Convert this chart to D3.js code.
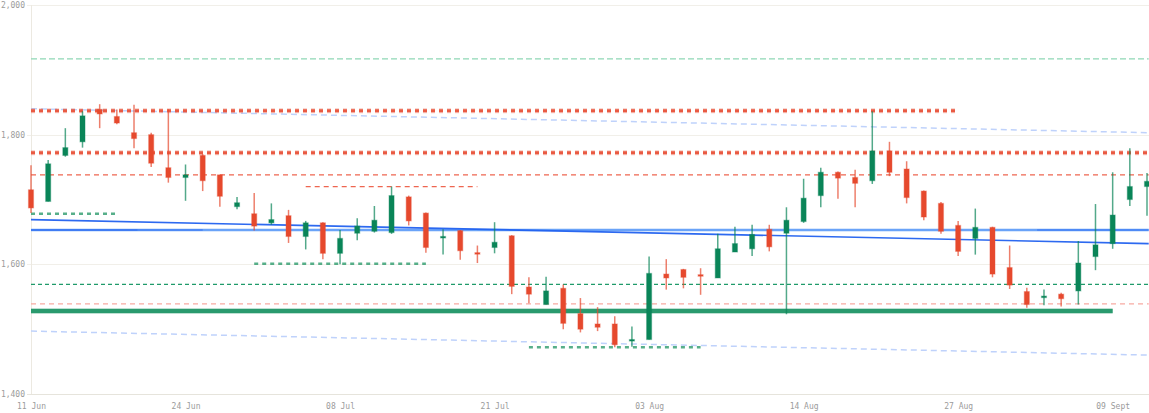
<!DOCTYPE html>
<html>
<head>
<meta charset="utf-8">
<script src="https://cdn.jsdelivr.net/npm/d3@7/dist/d3.min.js"></script>
<style>
  html, body { margin: 0; padding: 0; background: #ffffff; }
  svg { display: block; }
  text { font-family: "DejaVu Sans Mono", "Liberation Mono", monospace; }
</style>
</head>
<body>
<svg id="chart" width="1149" height="413"></svg>
<script>
// ---------------- DATA ----------------
const dates = [
  "2020-06-11","2020-06-12","2020-06-15","2020-06-16","2020-06-17","2020-06-18","2020-06-19",
  "2020-06-22","2020-06-23","2020-06-24","2020-06-25","2020-06-26","2020-06-29","2020-06-30",
  "2020-07-01","2020-07-02","2020-07-06","2020-07-07","2020-07-08","2020-07-09","2020-07-10",
  "2020-07-13","2020-07-14","2020-07-15","2020-07-16","2020-07-17","2020-07-20","2020-07-21",
  "2020-07-22","2020-07-23","2020-07-24","2020-07-27","2020-07-28","2020-07-29","2020-07-30",
  "2020-07-31","2020-08-03","2020-08-04","2020-08-05","2020-08-06","2020-08-07","2020-08-10",
  "2020-08-11","2020-08-12","2020-08-13","2020-08-14","2020-08-17","2020-08-18","2020-08-19",
  "2020-08-20","2020-08-21","2020-08-24","2020-08-25","2020-08-26","2020-08-27","2020-08-28",
  "2020-08-31","2020-09-01","2020-09-02","2020-09-03","2020-09-04","2020-09-07","2020-09-08",
  "2020-09-09","2020-09-10","2020-09-11"
];
const open  = [1715,1697,1768,1789,1839,1828,1803,1800,1749,1734,1768,1738,1689,1678,1664,1675,1643,1664,1617,1648,1651,1649,1704,1679,1641,1652,1618,1626,1644,1565,1538,1563,1524,1508,1508,1482,1484,1585,1592,1584,1579,1619,1624,1654,1648,1666,1706,1742,1734,1729,1775,1747,1713,1694,1660,1640,1657,1595,1558,1549,1554,1559,1612,1632,1700,1720];
const high  = [1753,1761,1810,1836,1847,1839,1846,1803,1839,1754,1770,1738,1704,1710,1694,1684,1667,1665,1653,1671,1690,1720,1706,1680,1654,1653,1629,1665,1645,1580,1581,1569,1548,1534,1520,1504,1612,1608,1593,1594,1647,1658,1661,1661,1688,1732,1749,1743,1746,1836,1789,1759,1714,1696,1667,1686,1658,1629,1564,1561,1556,1636,1693,1742,1779,1741];
const low   = [1679,1697,1766,1780,1810,1816,1779,1750,1726,1698,1713,1689,1685,1652,1661,1633,1623,1608,1600,1637,1649,1647,1660,1618,1615,1607,1602,1617,1554,1540,1538,1500,1495,1497,1472,1473,1484,1561,1563,1553,1579,1619,1613,1620,1523,1664,1688,1701,1688,1724,1736,1694,1668,1647,1613,1615,1580,1562,1533,1537,1535,1538,1591,1624,1690,1675];
const close = [1687,1755,1780,1829,1832,1818,1794,1756,1734,1738,1729,1705,1695,1659,1669,1643,1664,1617,1640,1659,1668,1706,1667,1626,1643,1621,1617,1634,1566,1554,1559,1509,1500,1503,1476,1484,1586,1579,1580,1582,1624,1632,1646,1627,1668,1702,1742,1733,1725,1775,1742,1703,1673,1651,1620,1657,1585,1568,1538,1551,1547,1602,1630,1676,1720,1728];

const yTicks = [1400, 1600, 1800, 2000];
const xTickDates  = ["2020-06-11","2020-06-24","2020-07-08","2020-07-21","2020-08-03","2020-08-14","2020-08-27","2020-09-09"];
const xTickLabels = ["11 Jun","24 Jun","08 Jul","21 Jul","03 Aug","14 Aug","27 Aug","09 Sept"];

// horizontal levels: [value, fromIndex, toIndex]  (65.1 = right edge)
const lightGreenLevels = [[1917, 0, 65.1]];
const redDottedLevels  = [[1837, 0, 54], [1772, 0, 65.1]];
const redDashLevels    = [[1738, 0, 65.1], [1720, 16, 26]];
const greenDashLevels  = [[1678, 0, 5], [1601, 13, 23], [1472, 29, 39]];
const greenThinLevels  = [[1569, 0, 65.1]];
const pinkLevels       = [[1539, 0, 65.1]];
const supportLevels    = [[1528, 0, 63]];
const blueFlatLevels   = [[1653, 0, 65.1]];
const blueFlatDark     = [[1653, 0, 10], [1653, 0, 6.2], [1653, 58.6, 65.1]];
// sloped channel lines: [fromIndex, fromValue, toIndex, toValue]
const channelOuter = [[0, 1840, 65.1, 1803], [0, 1497, 65.1, 1460]];
const channelMid   = [[0, 1669, 65.1, 1632]];

// ---------------- CHART ----------------
(function () {
const svg = d3.select("#chart");
const pLeft = 31, pRight = 1149, pTop = 5, pBottom = 394;
const x = d3.scaleLinear().domain([0, dates.length - 1]).range([31, 1147]);
const y = d3.scaleLinear().domain([1400, 2000]).range([pBottom, pTop]);
const idx = d => dates.indexOf(d);

const RED = "#e6492d", GREEN = "#0a8558";

// grid
const grid = svg.append("g");
grid.selectAll("line").data(yTicks).join("line")
  .attr("x1", 27).attr("x2", pRight)
  .attr("y1", d => Math.round(y(d)) + 0.5).attr("y2", d => Math.round(y(d)) + 0.5)
  .attr("stroke", d => d === 1400 ? "#e6e4dc" : "#f1efe9").attr("stroke-width", 1);
svg.append("line").attr("x1", pLeft + 0.5).attr("x2", pLeft + 0.5).attr("y1", pTop).attr("y2", pBottom)
  .attr("stroke", "#ece9e1").attr("stroke-width", 1);

// y axis labels
const yAxis = d3.axisLeft(y).tickValues(yTicks).tickSize(0).tickPadding(0)
  .tickFormat(d3.format(","));
const gy = svg.append("g").attr("transform", "translate(25,0)").call(yAxis);
gy.select(".domain").remove();
gy.selectAll("text").attr("font-size", 8).attr("fill", "#9b9b9b")
  .attr("font-family", "'DejaVu Sans Mono', monospace");

// x axis labels
const xAxis = d3.axisBottom(x).tickValues(xTickDates.map(idx)).tickSize(0).tickPadding(0)
  .tickFormat((d, i) => xTickLabels[i]);
const gx = svg.append("g").attr("transform", "translate(0,403)").call(xAxis);
gx.select(".domain").remove();
gx.selectAll("text").attr("font-size", 8).attr("fill", "#9b9b9b")
  .attr("font-family", "'DejaVu Sans Mono', monospace");

const levels = svg.append("g");
function hLines(data, color, width, dash, opacity, halo) {
  if (halo) {
    levels.append("g").selectAll("line").data(data).join("line")
      .attr("x1", d => x(d[1])).attr("x2", d => x(d[2]))
      .attr("y1", d => y(d[0])).attr("y2", d => y(d[0]))
      .attr("stroke", color).attr("stroke-width", width + 2)
      .attr("stroke-dasharray", dash).attr("opacity", 0.3);
  }
  levels.append("g").selectAll("line").data(data).join("line")
    .attr("x1", d => x(d[1])).attr("x2", d => x(d[2]))
    .attr("y1", d => y(d[0])).attr("y2", d => y(d[0]))
    .attr("stroke", color).attr("stroke-width", width)
    .attr("stroke-dasharray", dash).attr("opacity", opacity);
}
function sLines(data, color, width, dash, opacity) {
  levels.append("g").selectAll("line").data(data).join("line")
    .attr("x1", d => x(d[0])).attr("x2", d => x(d[2]))
    .attr("y1", d => y(d[1])).attr("y2", d => y(d[3]))
    .attr("stroke", color).attr("stroke-width", width)
    .attr("stroke-dasharray", dash).attr("opacity", opacity);
}

hLines(lightGreenLevels, "#8fd8b5", 1.2, "6,3", 1);
sLines(channelOuter, "#bfd2fb", 1.5, "6,4", 1);
hLines(pinkLevels, "#f7aaa2", 1.2, "5,4", 1);
hLines(greenThinLevels, "#1f9a6a", 1.2, "4,3", 1);
hLines(redDashLevels, "#ee6650", 1.3, "5,4", 1);
hLines(redDottedLevels, "#e9553d", 3, "4,4", 0.95, true);
hLines(greenDashLevels, "#2e9c6d", 2.5, "4,4", 0.8);
hLines(supportLevels, "#2a9a6e", 4, null, 1, true);
hLines(blueFlatLevels, "#6aa3f8", 2.5, null, 1);
hLines(blueFlatDark, "#2f6df2", 2, null, 0.45);
sLines(channelMid, "#2262f0", 1.6, null, 0.95);

// candles
const candles = svg.append("g");
const bw = 5;
const data = dates.map((d, i) => ({ i, o: open[i], h: high[i], l: low[i], c: close[i] }));
const col = d => d.c >= d.o ? GREEN : RED;
candles.selectAll("line.wick").data(data).join("line")
  .attr("class", "wick")
  .attr("x1", d => x(d.i)).attr("x2", d => x(d.i))
  .attr("y1", d => y(d.h)).attr("y2", d => y(d.l))
  .attr("stroke", col).attr("stroke-width", 1.5).attr("stroke-opacity", 0.7);
candles.selectAll("rect.body").data(data).join("rect")
  .attr("class", "body")
  .attr("x", d => x(d.i) - bw / 2)
  .attr("width", bw)
  .attr("y", d => y(Math.max(d.o, d.c)))
  .attr("height", d => Math.max(1.5, Math.abs(y(d.o) - y(d.c))))
  .attr("fill", col)
  .attr("stroke", col).attr("stroke-width", 1.2).attr("stroke-opacity", 0.35);
})();
</script>
</body>
</html>
